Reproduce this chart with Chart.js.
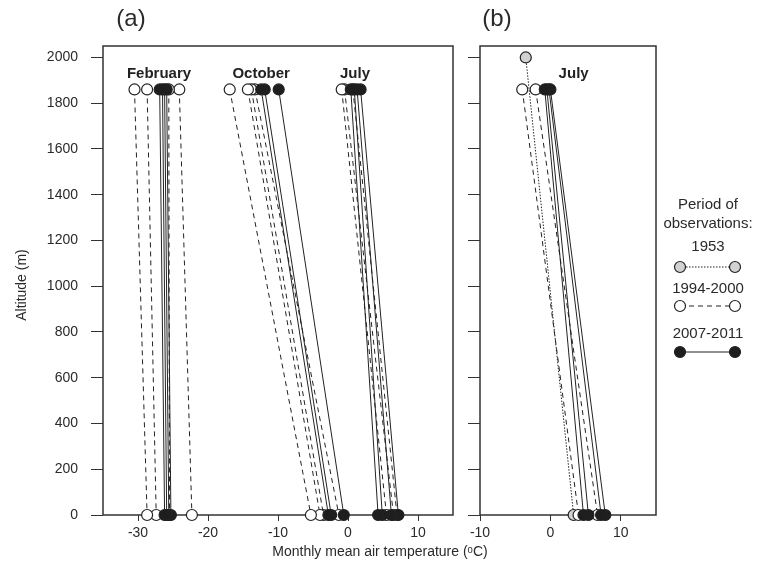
<!DOCTYPE html>
<html>
<head>
<meta charset="utf-8">
<script src="https://cdn.jsdelivr.net/npm/chart.js@4"></script>
<style>
    html, body { margin: 0; padding: 0; background: #fff; }
    #wrap { position: relative; width: 760px; height: 567px; }
    #chartA { position: absolute; left: 0; top: 0; width: 760px; height: 567px; }
    #chartB { position: absolute; left: 460px; top: 0; width: 300px; height: 567px; }
</style>
</head>
<body>
<div id="wrap">
    <canvas id="chartA" width="760" height="567"></canvas>
    <canvas id="chartB" width="300" height="567"></canvas>
</div>
<script>
// station altitudes (m): upper station and lower station
const altitudes = [1860, 0];
const altitudes1953 = [2000, 0];

// panel (a): February, October, July pairs (upper -> lower temperature, degC)
const aTop1994 = [-30.5, -28.7, -25.6, -24.1, -16.9, -14.3, -13.8, -13.3, -0.9, -0.5, 0.7];
const aBottom1994 = [-28.7, -27.4, -25.5, -22.3, -5.3, -4.0, -3.5, -1.3, 5.5, 6.5, 7.0];
const aTop2007 = [-26.9, -26.5, -26.2, -25.9, -12.4, -11.9, -9.9, 0.4, 0.9, 1.3, 1.8];
const aBottom2007 = [-26.2, -25.9, -25.6, -25.3, -2.8, -2.4, -0.6, 4.3, 4.9, 6.2, 7.2];

// panel (b): July
const bTop1953 = [-3.5];
const bBottom1953 = [3.3];
const bTop1994 = [-4.0, -2.1];
const bBottom1994 = [4.0, 6.7];
const bTop2007 = [-0.8, -0.5, -0.2, 0.0];
const bBottom2007 = [4.7, 5.4, 7.2, 7.8];

const monthNamesA = ['February', 'October', 'July'];
const monthXA = [-27.0, -12.4, 1.0];
const monthNamesB = ['July'];
const monthXB = [3.3];
const monthAlt = 1930;

const xTicksA = [-30, -20, -10, 0, 10];
const xTicksB = [-10, 0, 10];
const yTicks = [0, 200, 400, 600, 800, 1000, 1200, 1400, 1600, 1800, 2000];

const periods = ['1953', '1994-2000', '2007-2011'];

const family = "'Liberation Sans', Arial, sans-serif";
const ink = '#222';
const textInk = '#2a2a2a';

const styles = {
    p1953: { dash: [1.5, 1.5], fill: '#d2d2d2' },
    p1994: { dash: [5, 4], fill: '#ffffff' },
    p2007: { dash: [], fill: '#1e1e1e' },
};

function pairDatasets(tops, bottoms, alts, style) {
    return tops.map((t, i) => ({
        data: [{ x: t, y: alts[0] }, { x: bottoms[i], y: alts[1] }],
        showLine: true,
        borderColor: ink,
        borderWidth: 1,
        borderDash: style.dash,
        pointRadius: 5.5,
        pointBorderWidth: 1.2,
        pointBorderColor: ink,
        pointBackgroundColor: style.fill,
        clip: false,
    }));
}

function xScale(min, max, ticks) {
    return {
        type: 'linear',
        min,
        max,
        afterBuildTicks: (s) => { s.ticks = ticks.map((v) => ({ value: v })); },
        afterFit: (s) => { s.height = 52; },
        grid: { drawOnChartArea: false, tickLength: 6, color: '#333' },
        border: { display: false },
        ticks: { color: textInk, font: { family, size: 14 }, padding: 4, maxRotation: 0 },
    };
}

function yScale(width, showLabels) {
    return {
        type: 'linear',
        min: 0,
        max: 2050,
        afterBuildTicks: (s) => { s.ticks = yTicks.map((v) => ({ value: v })); },
        afterFit: (s) => { s.width = width; },
        grid: { drawOnChartArea: false, tickLength: 12, color: '#333' },
        border: { display: false },
        ticks: {
            color: textInk,
            font: { family, size: 14 },
            padding: 13,
            callback: (v) => (showLabels ? v : ''),
        },
    };
}

function drawBox(chart) {
    const { ctx, chartArea: a } = chart;
    ctx.save();
    ctx.strokeStyle = '#333';
    ctx.lineWidth = 1.5;
    ctx.strokeRect(a.left, a.top, a.right - a.left, a.bottom - a.top);
    ctx.restore();
}

function drawMonths(chart, names, xs) {
    const { ctx, scales } = chart;
    ctx.save();
    ctx.font = `bold 15px ${family}`;
    ctx.fillStyle = ink;
    ctx.textAlign = 'center';
    ctx.textBaseline = 'middle';
    names.forEach((n, i) => {
        ctx.fillText(n, scales.x.getPixelForValue(xs[i]), scales.y.getPixelForValue(monthAlt));
    });
    ctx.restore();
}

function drawText(ctx, text, x, y, font) {
    ctx.save();
    ctx.font = font;
    ctx.fillStyle = textInk;
    ctx.textAlign = 'center';
    ctx.textBaseline = 'middle';
    ctx.fillText(text, x, y);
    ctx.restore();
}

const panelA = {
    id: 'panelA',
    beforeDatasetsDraw: (chart) => drawBox(chart),
    afterDraw: (chart) => {
        const ctx = chart.ctx;
        drawMonths(chart, monthNamesA, monthXA);
        drawText(ctx, '(a)', 131, 19, `24px ${family}`);
        drawText(ctx, 'Monthly mean air temperature (\u1D52C)', 380, 552, `14px ${family}`);
        ctx.save();
        ctx.translate(22, 285);
        ctx.rotate(-Math.PI / 2);
        drawText(ctx, 'Altitude (m)', 0, 0, `14px ${family}`);
        ctx.restore();
    },
};

const legendRows = [
    { style: styles.p1953, textY: 247, markY: 267 },
    { style: styles.p1994, textY: 289, markY: 306 },
    { style: styles.p2007, textY: 334, markY: 352 },
];

const panelB = {
    id: 'panelB',
    beforeDatasetsDraw: (chart) => drawBox(chart),
    afterDraw: (chart) => {
        const ctx = chart.ctx;
        drawMonths(chart, monthNamesB, monthXB);
        drawText(ctx, '(b)', 37, 19, `24px ${family}`);

        // legend
        const cx = 248;
        drawText(ctx, 'Period of', cx, 205, `15px ${family}`);
        drawText(ctx, 'observations:', cx, 224, `15px ${family}`);
        legendRows.forEach((row, i) => {
            drawText(ctx, periods[i], cx, row.textY, `15px ${family}`);
            ctx.save();
            ctx.strokeStyle = ink;
            ctx.lineWidth = 1;
            ctx.setLineDash(row.style.dash);
            ctx.beginPath();
            ctx.moveTo(220, row.markY);
            ctx.lineTo(275, row.markY);
            ctx.stroke();
            ctx.setLineDash([]);
            ctx.lineWidth = 1.2;
            [220, 275].forEach((px) => {
                ctx.beginPath();
                ctx.arc(px, row.markY, 5.5, 0, Math.PI * 2);
                ctx.fillStyle = row.style.fill;
                ctx.fill();
                ctx.stroke();
            });
            ctx.restore();
        });
    },
};

const common = {
    responsive: false,
    animation: false,
    events: [],
    plugins: { legend: { display: false }, tooltip: { enabled: false } },
};

new Chart(document.getElementById('chartA'), {
    type: 'scatter',
    data: {
        datasets: [
            ...pairDatasets(aTop2007, aBottom2007, altitudes, styles.p2007),
            ...pairDatasets(aTop1994, aBottom1994, altitudes, styles.p1994),
        ],
    },
    options: {
        ...common,
        layout: { padding: { left: 0, right: 307, top: 46, bottom: 0 } },
        scales: { x: xScale(-35, 15, xTicksA), y: yScale(103, true) },
    },
    plugins: [panelA],
});

new Chart(document.getElementById('chartB'), {
    type: 'scatter',
    data: {
        datasets: [
            ...pairDatasets(bTop2007, bBottom2007, altitudes, styles.p2007),
            ...pairDatasets(bTop1994, bBottom1994, altitudes, styles.p1994),
            ...pairDatasets(bTop1953, bBottom1953, altitudes1953, styles.p1953),
        ],
    },
    options: {
        ...common,
        layout: { padding: { left: 0, right: 104, top: 46, bottom: 0 } },
        scales: { x: xScale(-10, 15, xTicksB), y: yScale(20, false) },
    },
    plugins: [panelB],
});
</script>
</body>
</html>
